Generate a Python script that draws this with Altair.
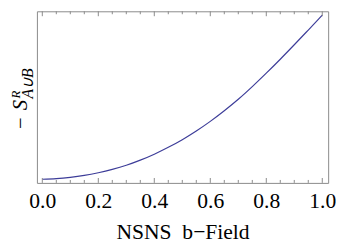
import altair as alt
import pandas as pd

# NSNS b-field values and (normalised) -S^R_{A∪B}
b_field = [0.0, 0.05, 0.1, 0.15, 0.2, 0.25, 0.3, 0.35, 0.4, 0.45, 0.5,
           0.55, 0.6, 0.65, 0.7, 0.75, 0.8, 0.85, 0.9, 0.95, 1.0]
neg_entropy = [0.0, 0.6, 2.0, 4.1, 7.0, 10.6, 15.0, 20.5, 26.9, 34.3, 42.5,
               51.8, 62.1, 73.5, 85.8, 99.4, 113.8, 128.8, 144.3, 160.1, 176.0]
major_ticks = [0.0, 0.2, 0.4, 0.6, 0.8, 1.0]
minor_ticks = [0.05, 0.1, 0.15, 0.25, 0.3, 0.35, 0.45, 0.5, 0.55,
               0.65, 0.7, 0.75, 0.85, 0.9, 0.95]

W, H = 297, 175
FRAME = "#8a8a8a"
LINE = "#3d3d99"
FONT = "Liberation Serif"

curve_df = pd.DataFrame({"b": b_field, "s": neg_entropy})
major_df = pd.DataFrame({"b": major_ticks})
minor_df = pd.DataFrame({"b": minor_ticks})

xscale = alt.Scale(domain=[-0.0192, 1.021], nice=False, zero=False)
yscale = alt.Scale(domain=[-3.9, 180.2], nice=False, zero=False)
xaxis = alt.Axis(
    values=major_ticks, format=".1f", ticks=False, domain=False, grid=False,
    labelFont=FONT, labelFontSize=22, labelColor="black", labelPadding=8,
    labelFlush=False, labelOverlap=False, labelBound=False,
    title="NSNS\u2002b−Field", titleFont=FONT, titleFontSize=22,
    titleFontWeight="normal", titleColor="black", titlePadding=11)

curve = alt.Chart(curve_df).mark_line(
    color=LINE, strokeWidth=1.2, interpolate="monotone"
).encode(
    x=alt.X("b:Q", scale=xscale, axis=xaxis),
    y=alt.Y("s:Q", scale=yscale, axis=None),
)

def ticks(df, y0, y1):
    return alt.Chart(df).mark_rule(color=FRAME, strokeWidth=1).encode(
        x=alt.X("b:Q", scale=xscale, axis=xaxis),
        y=alt.value(y0), y2=alt.value(y1))

tick_layers = [
    ticks(major_df, H, H - 5), ticks(minor_df, H, H - 3),
    ticks(major_df, 0, 5), ticks(minor_df, 0, 3),
]

def label(text, x, y, size, italic):
    return alt.Chart(pd.DataFrame({"t": [text]})).mark_text(
        text=text, font=FONT, fontSize=size, fontStyle="italic" if italic else "normal",
        angle=270, align="left", baseline="alphabetic", color="black"
    ).encode(x=alt.value(x), y=alt.value(y))

ytitle = [
    label("−", -10.5, 120, 21, False),
    label("S", -10.5, 101, 21, True),
    label("R", -17.5, 89, 13, True),
    label("A∪B", -3.5, 89, 16, True),
]

chart = alt.layer(curve, *tick_layers, *ytitle).properties(
    width=W, height=H,
    autosize=alt.AutoSizeParams(type="none"),
    padding={"left": 29.5, "top": 1, "right": 8, "bottom": 63},
).configure_view(stroke=FRAME, strokeWidth=1)

chart.save("out.html", embed_options={"renderer": "svg", "actions": False})
